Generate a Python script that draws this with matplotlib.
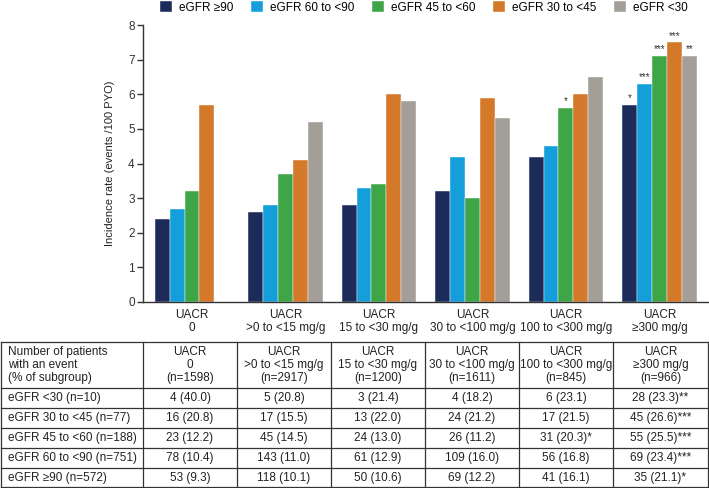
import numpy as np
import matplotlib.pyplot as plt

plt.rcParams['font.family'] = ['Liberation Sans', 'DejaVu Sans']

# Dados do gráfico
groups = ['UACR\n0', 'UACR\n>0 to <15 mg/g', 'UACR\n15 to <30 mg/g',
          'UACR\n30 to <100 mg/g', 'UACR\n100 to <300 mg/g', 'UACR\n≥300 mg/g']
series = ['eGFR ≥90', 'eGFR 60 to <90', 'eGFR 45 to <60', 'eGFR 30 to <45', 'eGFR <30']
colors = ['#1c2b5a', '#149fda', '#3fa648', '#d4792a', '#a39e97']

egfr_90 = [2.4, 2.6, 2.8, 3.2, 4.2, 5.7]
egfr_60 = [2.7, 2.8, 3.3, 4.2, 4.5, 6.3]
egfr_45 = [3.2, 3.7, 3.4, 3.0, 5.6, 7.1]
egfr_30 = [5.7, 4.1, 6.0, 5.9, 6.0, 7.5]
egfr_lt30 = [np.nan, 5.2, 5.8, 5.3, 6.5, 7.1]
rates = [egfr_90, egfr_60, egfr_45, egfr_30, egfr_lt30]

stars_90 = ['', '', '', '', '', '*']
stars_60 = ['', '', '', '', '', '***']
stars_45 = ['', '', '', '', '*', '***']
stars_30 = ['', '', '', '', '', '***']
stars_lt30 = ['', '', '', '', '', '**']
bar_stars = [stars_90, stars_60, stars_45, stars_30, stars_lt30]

# Tabela
table_header = ['Number of patients\nwith an event\n(% of subgroup)',
                'UACR\n0\n(n=1598)', 'UACR\n>0 to <15 mg/g\n(n=2917)',
                'UACR\n15 to <30 mg/g\n(n=1200)', 'UACR\n30 to <100 mg/g\n(n=1611)',
                'UACR\n100 to <300 mg/g\n(n=845)', 'UACR\n≥300 mg/g\n(n=966)']
row_labels = ['eGFR <30 (n=10)', 'eGFR 30 to <45 (n=77)', 'eGFR 45 to <60 (n=188)',
              'eGFR 60 to <90 (n=751)', 'eGFR ≥90 (n=572)']
counts = [[4, 5, 3, 4, 6, 28],
          [16, 17, 13, 24, 17, 45],
          [23, 45, 24, 26, 31, 55],
          [78, 143, 61, 109, 56, 69],
          [53, 118, 50, 69, 41, 35]]
pcts = [[40.0, 20.8, 21.4, 18.2, 23.1, 23.3],
        [20.8, 15.5, 22.0, 21.2, 21.5, 26.6],
        [12.2, 14.5, 13.0, 11.2, 20.3, 25.5],
        [10.4, 11.0, 12.9, 16.0, 16.8, 23.4],
        [9.3, 10.1, 10.6, 12.2, 16.1, 21.1]]
table_stars = [['', '', '', '', '', '**'],
               ['', '', '', '', '', '***'],
               ['', '', '', '', '*', '***'],
               ['', '', '', '', '', '***'],
               ['', '', '', '', '', '*']]

W, H = 709, 488
fig = plt.figure(figsize=(W / 100, H / 100), dpi=100)
fs = 8.5
tc = '#222222'

# Gráfico de barras
ax = fig.add_axes([143 / W, 1 - 302 / H, 566 / W, 277 / H])
x = np.arange(len(groups))
w = 0.16
for j, (vals, c) in enumerate(zip(rates, colors)):
    pos = x + (j - 2) * w
    ax.bar(pos, vals, w, color=c, edgecolor='white', linewidth=0.3, label=series[j])
    for p, v, s in zip(pos, vals, bar_stars[j]):
        if s:
            ax.text(p, v + 0.05, s, ha='center', va='bottom', fontsize=7, color='#333333')

ax.set_xlim(-0.524, 5.53)
ax.set_ylim(0, 8)
ax.set_xticks(x)
ax.set_xticklabels(groups, fontsize=fs, color=tc, linespacing=1.15)
ax.tick_params(axis='x', length=0, pad=5)
ax.tick_params(axis='y', length=4, width=1, labelsize=fs, colors='#333333', pad=2)
ax.set_ylabel('Incidence rate (events /100 PYO)', fontsize=8, color=tc)
ax.yaxis.set_label_coords(-0.05, 0.5)
for sp in ['top', 'right']:
    ax.spines[sp].set_visible(False)
for sp in ['left', 'bottom']:
    ax.spines[sp].set_color('#333333')
    ax.spines[sp].set_linewidth(1)

fig.legend(loc='upper center', bbox_to_anchor=(424 / W, 1.0), ncol=5, frameon=False,
           fontsize=fs, handlelength=1.0, handleheight=1.0, handletextpad=0.6,
           columnspacing=1.5, borderaxespad=0, borderpad=0.1)

# Tabela em coordenadas de pixel
axt = fig.add_axes([0, 0, 1, 1], zorder=-1)
axt.set_xlim(0, W)
axt.set_ylim(H, 0)
axt.axis('off')
col_edges = [1, 143, 237, 331, 425, 519, 613, 708]
row_edges = [342, 388, 408, 428, 448, 468, 487]
lc = '#333333'
for yy in row_edges:
    axt.plot([col_edges[0], col_edges[-1]], [yy, yy], color=lc, lw=0.9)
for xx in col_edges:
    axt.plot([xx, xx], [row_edges[0], row_edges[-1]], color=lc, lw=0.9)

hy = (row_edges[0] + row_edges[1]) / 2
axt.text(8, hy, table_header[0], ha='left', va='center', fontsize=fs,
         color=tc, linespacing=1.1)
for k in range(6):
    cx = (col_edges[k + 1] + col_edges[k + 2]) / 2
    axt.text(cx, hy, table_header[k + 1], ha='center', va='center', fontsize=fs,
             color=tc, linespacing=1.1)

for r in range(len(row_labels)):
    cy = (row_edges[r + 1] + row_edges[r + 2]) / 2
    axt.text(8, cy, row_labels[r], ha='left', va='center', fontsize=fs, color=tc)
    for k in range(6):
        cx = (col_edges[k + 1] + col_edges[k + 2]) / 2
        s = f'{counts[r][k]} ({pcts[r][k]:.1f}){table_stars[r][k]}'
        axt.text(cx, cy, s, ha='center', va='center', fontsize=fs, color=tc)

fig.savefig('out.png', dpi=100)
